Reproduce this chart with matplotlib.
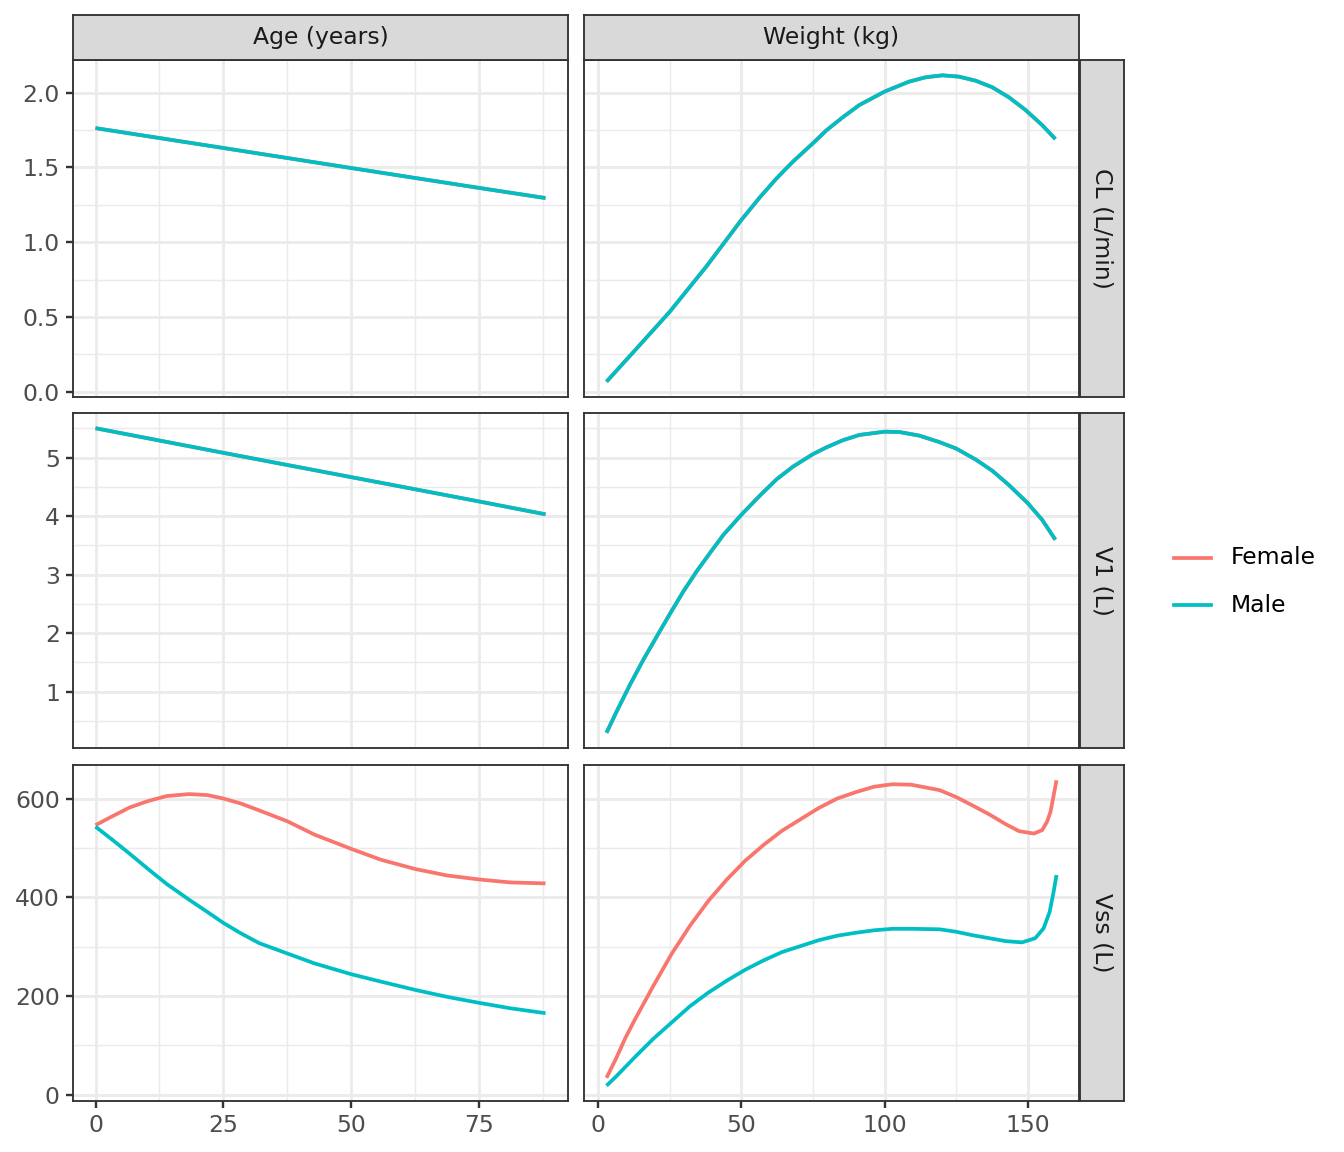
import matplotlib.pyplot as plt
from matplotlib.lines import Line2D

# ---- data ----
sexes = ["Female", "Male"]
sex_colors = {"Female": "#F8766D", "Male": "#00BFC4"}

col_labels = ["Age (years)", "Weight (kg)"]
row_labels = ["CL (L/min)", "V1 (L)", "Vss (L)"]

# covariate = Age
age_lin = [0, 25, 50, 75, 88]
cl_age = [1.763, 1.630, 1.496, 1.363, 1.295]
v1_age = [5.50, 5.08, 4.665, 4.25, 4.03]

age_vss = [0, 3.1, 6.7, 10.3, 13.9, 18.3, 21.9, 25, 28.4, 32, 37.5, 42.8, 50,
           55.8, 62.6, 68.8, 75, 81.1, 88]
vss_age_female = [546, 563, 582, 595, 605, 609, 607, 600, 590, 576, 554, 527, 498,
                  476, 457, 444, 436, 430, 428]
vss_age_male = [543, 518, 488, 457, 427, 395, 370, 348, 327, 307, 286, 266, 244,
                229, 212, 198, 186, 175, 165]

# covariate = Weight
wt_cl = [3, 11.2, 24.9, 37.9, 49.9, 56.5, 62.3, 68.0, 75, 79.6, 85.4, 91.2, 100,
         108.6, 114.4, 120.2, 126, 131.8, 137.6, 143.4, 149.2, 155, 159.6]
cl_wt = [0.067, 0.24, 0.531, 0.839, 1.145, 1.30, 1.426, 1.538, 1.661, 1.746,
         1.835, 1.917, 2.007, 2.074, 2.103, 2.116, 2.107, 2.080, 2.036, 1.969,
         1.884, 1.783, 1.690]

wt_v1 = [3.0, 6.7, 11.3, 16.0, 20.6, 25, 29.9, 34.5, 39.1, 43.8, 50, 56.5, 62.3,
         68.0, 75, 79.6, 85.4, 91.2, 100, 105.1, 112.1, 119.0, 125, 131.8, 137.6,
         143.4, 150, 155, 159.6]
v1_wt = [0.30, 0.68, 1.13, 1.56, 1.95, 2.32, 2.72, 3.06, 3.37, 3.68, 4.02, 4.349,
         4.626, 4.842, 5.057, 5.170, 5.294, 5.385, 5.441, 5.436, 5.374, 5.266, 5.153,
         4.966, 4.774, 4.530, 4.219, 3.936, 3.597]

wt_vss_f = [3, 6.4, 9.6, 12.9, 19.3, 25.7, 32.1, 38.6, 45, 51.4, 57.8, 64.3, 70.7,
            77.1, 83.5, 90, 96.4, 102.8, 109.3, 119.2, 125, 130.7, 136.5, 142.3,
            146.9, 152.1, 155, 156.7, 157.9, 158.8, 160]
vss_wt_female = [34, 74, 115, 152, 220, 285, 342, 393, 436, 474, 506, 535, 558,
                 581, 600, 613, 624, 629, 628, 617, 603, 586, 568, 548,
                 534, 529, 536, 553, 573, 600, 637]

wt_vss_m = [3, 6.4, 12.9, 19.3, 25.7, 32.1, 38.6, 45, 51.4, 57.8, 64.3, 70.7, 77.1,
            83.5, 90, 96.4, 102.8, 109.3, 119.2, 125, 130.7, 136.5, 142.3, 148,
            152.6, 155.5, 157.6, 159, 160]
vss_wt_male = [18, 37, 76, 113, 146, 179, 207, 231, 253, 272, 289, 301, 313,
               322, 328, 333, 336, 336, 335, 330, 323, 317, 311, 308.5,
               317, 337, 370, 411, 445]

panels = {
    (0, 0): {"Female": (age_lin, cl_age), "Male": (age_lin, cl_age)},
    (0, 1): {"Female": (wt_cl, cl_wt), "Male": (wt_cl, cl_wt)},
    (1, 0): {"Female": (age_lin, v1_age), "Male": (age_lin, v1_age)},
    (1, 1): {"Female": (wt_v1, v1_wt), "Male": (wt_v1, v1_wt)},
    (2, 0): {"Female": (age_vss, vss_age_female), "Male": (age_vss, vss_age_male)},
    (2, 1): {"Female": (wt_vss_f, vss_wt_female), "Male": (wt_vss_m, vss_wt_male)},
}

x_major = [[0, 25, 50, 75], [0, 50, 100, 150]]
x_minor = [[12.5, 37.5, 62.5, 87.5], [25, 75, 125]]
y_major = [[0, 0.5, 1.0, 1.5, 2.0], [1, 2, 3, 4, 5], [0, 200, 400, 600]]
y_minor = [[0.25, 0.75, 1.25, 1.75], [0.5, 1.5, 2.5, 3.5, 4.5, 5.5], [100, 300, 500]]
y_fmt = ["{:.1f}", "{:g}", "{:g}"]

# ---- layout (pixel boxes of the reference) ----
W, H = 1344, 1152
fig = plt.figure(figsize=(7, 6), dpi=192)
fig.patch.set_facecolor("white")

col_x = [(73, 568), (584, 1079)]
row_y = [(60, 397), (413, 748), (765, 1101)]
strip_top = (15, 60)
strip_right = (1080, 1124)

BORDER = "#333333"
GRID = "#EBEBEB"
LW_GRID = 1.07
LW_BORDER = 0.7
FS = 8.8


def box(x0, x1, y0, y1):
    return [x0 / W, 1 - y1 / H, (x1 - x0) / W, (y1 - y0) / H]


def expand(vals, mult=0.05):
    lo = min(min(v) for v in vals)
    hi = max(max(v) for v in vals)
    pad = (hi - lo) * mult
    return lo - pad, hi + pad


xlims = []
for c in range(2):
    xs = [panels[(r, c)][s][0] for r in range(3) for s in sexes]
    xlims.append(expand(xs))
ylims = []
for r in range(3):
    ys = [panels[(r, c)][s][1] for c in range(2) for s in sexes]
    ylims.append(expand(ys))

for r in range(3):
    for c in range(2):
        x0, x1 = col_x[c]
        y0, y1 = row_y[r]
        ax = fig.add_axes(box(x0, x1, y0, y1))
        for s in sexes:
            xs, ys = panels[(r, c)][s]
            ax.plot(xs, ys, color=sex_colors[s], lw=1.4, solid_capstyle="butt",
                    solid_joinstyle="round", zorder=3)
        ax.set_xlim(*xlims[c])
        ax.set_ylim(*ylims[r])
        ax.set_xticks(x_major[c])
        ax.set_xticks(x_minor[c], minor=True)
        ax.set_yticks(y_major[r])
        ax.set_yticks(y_minor[r], minor=True)
        ax.set_yticklabels([y_fmt[r].format(v) for v in y_major[r]])
        ax.set_axisbelow(True)
        ax.grid(which="minor", color=GRID, lw=LW_GRID / 2)
        ax.grid(which="major", color=GRID, lw=LW_GRID)
        for sp in ax.spines.values():
            sp.set_color(BORDER)
            sp.set_linewidth(LW_BORDER)
        ax.tick_params(which="both", direction="out", length=2.74, width=0.9,
                       color=BORDER, labelcolor="#4D4D4D", labelsize=FS, pad=2.2)
        ax.tick_params(which="minor", length=0)
        if r < 2:
            ax.tick_params(axis="x", which="both", length=0, labelbottom=False)
        if c > 0:
            ax.tick_params(axis="y", which="both", length=0, labelleft=False)

# column strips
for c in range(2):
    x0, x1 = col_x[c]
    sax = fig.add_axes(box(x0, x1, strip_top[0], strip_top[1]))
    sax.set_facecolor("#D9D9D9")
    sax.set_xticks([])
    sax.set_yticks([])
    for sp in sax.spines.values():
        sp.set_color(BORDER)
        sp.set_linewidth(LW_BORDER)
    sax.text(0.5, 0.5, col_labels[c], ha="center", va="center", fontsize=FS,
             color="#1A1A1A", transform=sax.transAxes)

# row strips
for r in range(3):
    y0, y1 = row_y[r]
    sax = fig.add_axes(box(strip_right[0], strip_right[1], y0, y1))
    sax.set_facecolor("#D9D9D9")
    sax.set_xticks([])
    sax.set_yticks([])
    for sp in sax.spines.values():
        sp.set_color(BORDER)
        sp.set_linewidth(LW_BORDER)
    sax.text(0.5, 0.5, row_labels[r], ha="center", va="center", fontsize=FS,
             color="#1A1A1A", rotation=-90, transform=sax.transAxes)

# legend
legend_y = [558, 605]
for s, ly in zip(sexes, legend_y):
    fig.add_artist(Line2D([1174 / W, 1211 / W], [1 - ly / H, 1 - ly / H],
                          color=sex_colors[s], lw=1.4, transform=fig.transFigure))
    fig.text(1231 / W, 1 - ly / H, s, ha="left", va="center", fontsize=FS, color="black")

fig.savefig("out.png", dpi=192, facecolor="white")
